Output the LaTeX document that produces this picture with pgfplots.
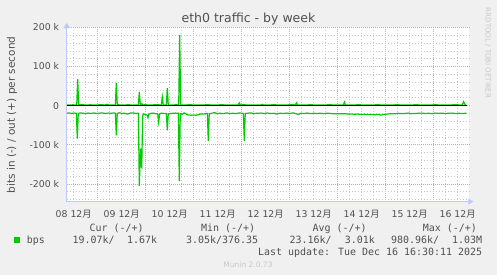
\documentclass[border=0pt]{standalone}
\usepackage{fontspec}
\setmainfont{DejaVu Sans}
\newfontfamily\mono{DejaVu Sans Mono}
\newfontfamily\cjk{Noto Sans CJK SC}
\usepackage{pgfplots}
\pgfplotsset{compat=1.18}
\usetikzlibrary{arrows.meta}
\definecolor{bgc}{RGB}{240,240,240}
\definecolor{axc}{RGB}{190,200,255}
\definecolor{mgc}{RGB}{228,160,160}
\definecolor{gc}{RGB}{200,200,200}
\definecolor{lc}{RGB}{0,204,0}
\definecolor{txc}{RGB}{80,80,80}
\definecolor{wmc}{RGB}{200,200,200}
\newcommand{\mo}{{\cjk 月}}
\begin{document}
\begin{tikzpicture}
\fill[bgc] (0,0) rectangle (497bp,-275bp);
\begin{axis}[
  at={(66.7bp,-201.5bp)}, anchor=south west,
  width=402.6bp, height=174.5bp, scale only axis,
  xmin=8.354, xmax=16.742, ymin=-245, ymax=201,
  axis x line=bottom, axis y line=left,
  axis line style={draw=axc, line width=0.9bp, -{Triangle[length=5bp,width=6bp]}, shorten >=-4bp},
  axis background/.style={fill=white},
  xtick={9,10,11,12,13,14,15,16}, xticklabels={},
  minor xtick={8.5,8.75,9.25,9.5,9.75,10.25,10.5,10.75,11.25,11.5,11.75,12.25,12.5,12.75,13.25,13.5,13.75,14.25,14.5,14.75,15.25,15.5,15.75,16.25,16.5},
  extra x ticks={8.5,9.5,10.5,11.5,12.5,13.5,14.5,15.5,16.5},
  extra x tick labels={08 12\mo,09 12\mo,10 12\mo,11 12\mo,12 12\mo,13 12\mo,14 12\mo,15 12\mo,16 12\mo},
  extra x tick style={xmajorgrids=false},
  ytick={-200,-100,0,100,200},
  yticklabels={-200 k,-100 k,0,100 k,200 k},
  minor ytick={-240,-220,-180,-160,-140,-120,-80,-60,-40,-20,20,40,60,80,120,140,160,180},
  grid=both,
  major grid style={draw=mgc, dash pattern=on 1bp off 1bp, line width=0.7bp},
  minor grid style={draw=gc, dash pattern=on 1bp off 2bp, line width=0.7bp},
  major tick length=0pt, minor tick length=0pt,
  ticklabel style={font=\fontsize{9.33bp}{11bp}\selectfont, text=txc},
  yticklabel style={anchor=east, inner sep=0pt, xshift=-7.4bp},
  xticklabel style={anchor=center, inner sep=0pt, yshift=-13bp},
  clip=true,
]
\addplot[lc, line width=1.2bp] coordinates {
(8.36,2.0) (8.42,1.8) (8.48,2.1) (8.54,1.9) (8.563,2.0) (8.583,68) (8.603,2.2)
(8.65,2.0) (8.69,3.2) (8.71,2.0) (8.78,1.9) (8.85,2.1) (8.92,1.8) (9.00,2.0)
(9.08,2.2) (9.15,1.9) (9.20,3.5) (9.23,2.0) (9.30,1.9) (9.368,2.0) (9.388,58)
(9.408,2.1) (9.47,2.0) (9.55,1.8) (9.62,2.1) (9.70,2.0) (9.77,1.9) (9.847,2.0)
(9.867,35) (9.887,3.0) (9.905,2.5) (9.917,5.0) (9.94,2.0) (10.00,2.1) (10.08,1.9)
(10.15,2.0) (10.22,2.2) (10.30,2.0) (10.326,2.0) (10.346,22) (10.366,2.0)
(10.43,2.0) (10.45,45) (10.47,2.0) (10.55,1.9) (10.62,2.1) (10.688,2.0)
(10.708,181) (10.728,2.0) (10.80,1.9) (10.90,2.1) (11.00,2.0) (11.10,1.9)
(11.20,2.0) (11.30,2.1) (11.40,1.9) (11.50,2.0) (11.60,2.1) (11.70,1.9)
(11.80,2.0) (11.93,2.0) (11.95,7) (11.97,2.0) (12.05,2.1) (12.15,1.9)
(12.25,2.0) (12.35,2.0) (12.41,2.0) (12.43,3.5) (12.45,2.0) (12.55,1.9)
(12.65,2.1) (12.75,2.0) (12.85,1.9) (12.95,2.0) (13.05,2.1) (13.12,2.0)
(13.14,7) (13.16,2.0) (13.25,1.9) (13.35,2.0) (13.45,2.1) (13.55,1.9)
(13.65,2.0) (13.75,2.0) (13.85,2.1) (13.95,1.9) (14.05,2.0) (14.12,2.0)
(14.14,9) (14.16,2.0) (14.25,1.9) (14.35,2.0) (14.45,2.1) (14.55,1.9)
(14.65,2.0) (14.75,2.0) (14.85,2.1) (14.95,1.9) (15.05,2.0) (15.15,2.0)
(15.25,2.1) (15.35,1.9) (15.45,2.0) (15.55,2.0) (15.65,2.1) (15.75,1.9)
(15.85,2.0) (15.95,2.0) (16.05,2.1) (16.15,1.9) (16.25,2.0) (16.35,2.0)
(16.45,2.1) (16.55,2.0) (16.60,2.0) (16.62,10) (16.64,6) (16.66,2.0) (16.68,1.7)
};
\addplot[lc, line width=1.2bp] coordinates {
(8.36,-19.5) (8.40,-18.5) (8.45,-20.0) (8.50,-19.0) (8.555,-19.5) (8.575,-84)
(8.595,-20) (8.64,-18.5) (8.70,-19.5) (8.75,-20.5) (8.80,-19.0) (8.86,-19.8)
(8.92,-18.8) (8.98,-20.0) (9.04,-19.2) (9.10,-18.6) (9.16,-20.2) (9.22,-19.0)
(9.28,-19.5) (9.34,-18.8) (9.368,-19.5) (9.388,-76) (9.408,-20) (9.45,-18.2)
(9.50,-20.0) (9.56,-19.3) (9.62,-21.5) (9.68,-19.0) (9.74,-18.6) (9.80,-20.0)
(9.847,-19.5) (9.867,-205) (9.892,-110) (9.917,-160) (9.9375,-25) (9.96,-21)
(10.00,-23) (10.03,-24) (10.048,-31) (10.065,-22) (10.10,-20) (10.15,-19)
(10.20,-20.5) (10.25,-21) (10.27,-42) (10.29,-21) (10.33,-19) (10.38,-20)
(10.43,-20) (10.45,-63) (10.47,-21) (10.52,-20) (10.57,-19.5) (10.62,-19)
(10.68,-19.5) (10.70,-192) (10.72,-20) (10.76,-22) (10.80,-18.5) (10.85,-22)
(10.90,-24) (10.95,-24.5) (11.00,-24) (11.05,-24.5) (11.10,-23) (11.15,-21)
(11.20,-21.5) (11.25,-20.5) (11.284,-20) (11.304,-90) (11.324,-21) (11.38,-19.5)
(11.43,-17.5) (11.48,-20) (11.55,-19.5) (11.62,-20.5) (11.68,-18.5) (11.75,-20)
(11.82,-19.5) (11.88,-20.5) (11.95,-18.5) (12.00,-19.5) (12.034,-20) (12.054,-90)
(12.074,-20) (12.12,-19.5) (12.18,-18.5) (12.25,-20) (12.32,-19.5) (12.40,-19)
(12.47,-20) (12.54,-18.8) (12.60,-20.2) (12.67,-19.5) (12.73,-21.5) (12.80,-19.2)
(12.87,-20) (12.94,-19) (13.00,-20) (13.07,-18.5) (13.13,-20.5) (13.18,-22.5)
(13.23,-19.5) (13.30,-20) (13.37,-19) (13.44,-20.5) (13.50,-19.5) (13.57,-20)
(13.64,-19.5) (13.71,-20.5) (13.78,-19.2) (13.85,-20) (13.92,-20.8) (14.00,-20.5)
(14.07,-21) (14.14,-20.5) (14.21,-21.5) (14.28,-21) (14.35,-22) (14.42,-21.5)
(14.49,-22.5) (14.56,-22) (14.63,-23) (14.70,-22.5) (14.77,-23.5) (14.84,-22.5)
(14.91,-24) (14.98,-22) (15.05,-21.5) (15.12,-20.5) (15.19,-21) (15.26,-19.5)
(15.33,-20.5) (15.40,-20) (15.47,-19) (15.54,-20.5) (15.61,-20) (15.68,-19.5)
(15.75,-19) (15.82,-20) (15.89,-19.5) (15.96,-20.5) (16.03,-19) (16.10,-19.8)
(16.17,-19.2) (16.24,-20) (16.31,-19.5) (16.38,-19) (16.45,-20) (16.52,-19.5)
(16.59,-20) (16.68,-19.5)
};
\addplot[black, line width=1.4bp] coordinates {(8.354,0) (16.69,0)};
\end{axis}
% texts
\node[font=\fontsize{12.5bp}{14bp}\selectfont, text=txc] at (248.5bp,-19bp) {eth0 traffic - by week};
\node[rotate=90, font=\fontsize{10.5bp}{12bp}\selectfont, text=txc] at (12bp,-115bp) {bits in (-) / out (+) per second};
\node[rotate=-90, font=\fontsize{7bp}{8bp}\selectfont, text=wmc] at (488bp,-53bp) {RRDTOOL / TOBI OETIKER};
% legend
\fill[lc] (14bp,-236.7bp) rectangle (20bp,-242.7bp);
\begin{scope}[every node/.style={font=\mono\fontsize{9.97bp}{12bp}\selectfont, text=txc, inner sep=0pt}]
\node[anchor=base west] at (26.7bp,-243.2bp) {bps};
\node[anchor=base west] at (89.3bp,-231.3bp) {Cur (-/+)};
\node[anchor=base west] at (201bp,-231.3bp) {Min (-/+)};
\node[anchor=base west] at (312.3bp,-231.3bp) {Avg (-/+)};
\node[anchor=base west] at (422.7bp,-231.3bp) {Max (-/+)};
\node[anchor=base west] at (72.3bp,-243.2bp) {19.07k/};
\node[anchor=base east] at (157.3bp,-243.2bp) {1.67k};
\node[anchor=base west] at (186bp,-243.2bp) {3.05k/376.35};
\node[anchor=base west] at (289.3bp,-243.2bp) {23.16k/};
\node[anchor=base east] at (375bp,-243.2bp) {3.01k};
\node[anchor=base west] at (391bp,-243.2bp) {980.96k/};
\node[anchor=base east] at (482.3bp,-243.2bp) {1.03M};
\node[anchor=base east] at (482.3bp,-255.3bp) {Last update: Tue Dec 16 16:30:11 2025};
\end{scope}
\node[font=\fontsize{7.5bp}{9bp}\selectfont, text=wmc] at (248bp,-265bp) {Munin 2.0.73};
\pgfresetboundingbox
\path[use as bounding box] (0,0) rectangle (497bp,-275bp);
\end{tikzpicture}
\end{document}
